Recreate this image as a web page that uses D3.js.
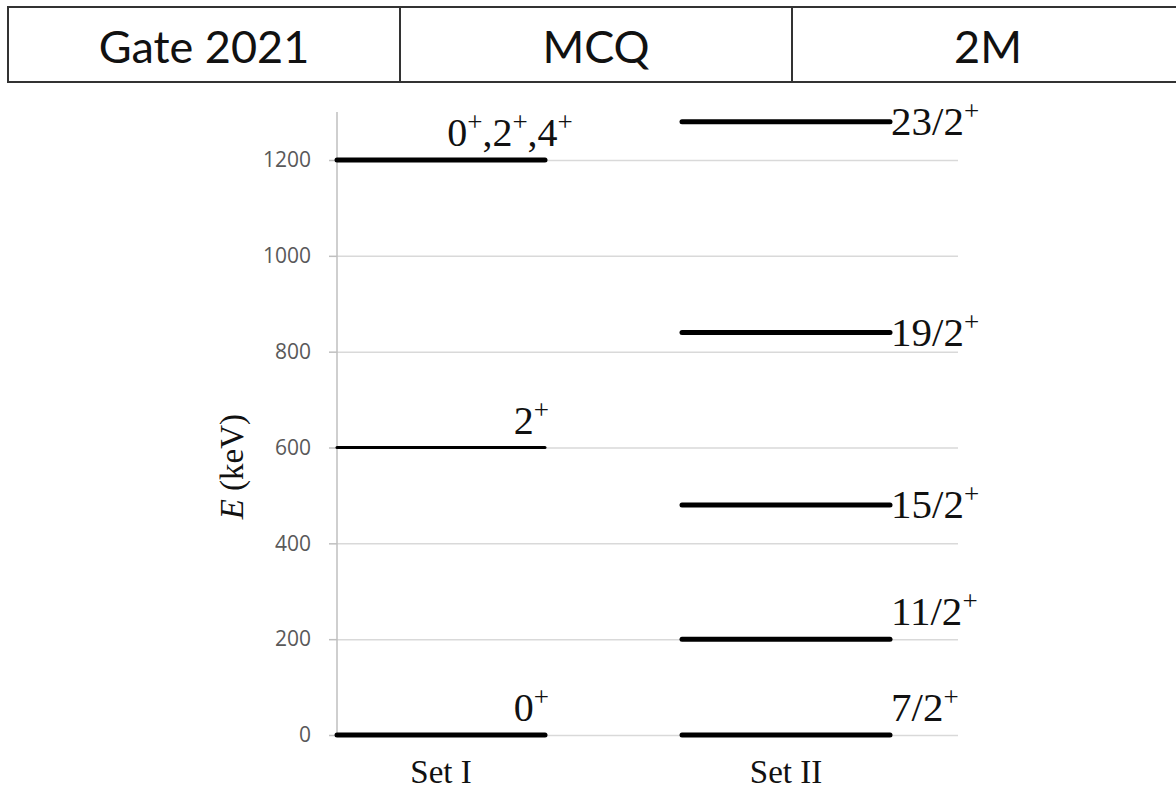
<!DOCTYPE html>
<html>
<head>
<meta charset="utf-8">
<script src="https://cdn.jsdelivr.net/npm/d3@7"></script>
<style>
  body { margin: 0; background: #fff; }
</style>
</head>
<body>
<script>
// header cells
var headerCells = ["Gate 2021", "MCQ", "2M"];

// energy levels (keV) per set, with spin-parity labels
var sets = ["Set I", "Set II"];
var setOneEnergy = [0, 600, 1200];
var setOneLabel = [["0"], ["2"], ["0", ",2", ",4"]];
var setTwoEnergy = [0, 200, 480, 840, 1280];
var setTwoLabel = ["7/2", "11/2", "15/2", "19/2", "23/2"];
var yTicks = [0, 200, 400, 600, 800, 1000, 1200];

var W = 1176, H = 790;
var svg = d3.select("body").append("svg")
    .attr("width", W)
    .attr("height", H);

// ---- header table ----
var cellX = d3.scaleBand().domain(headerCells).range([8, 1184]);
var head = svg.append("g");
head.selectAll("rect")
    .data(headerCells)
    .enter().append("rect")
    .attr("x", function(d) { return cellX(d); })
    .attr("y", 7)
    .attr("width", cellX.bandwidth())
    .attr("height", 75)
    .attr("fill", "none")
    .attr("stroke", "#333")
    .attr("stroke-width", 2);
head.selectAll("text")
    .data(headerCells)
    .enter().append("text")
    .attr("x", function(d) { return cellX(d) + cellX.bandwidth() / 2; })
    .attr("y", 63)
    .attr("text-anchor", "middle")
    .attr("font-family", "Lato, 'Open Sans', sans-serif")
    .attr("font-size", 45)
    .attr("fill", "#111")
    .text(function(d) { return d; });

// ---- level chart ----
var y = d3.scaleLinear().domain([0, 1200]).range([735, 160]);
var x = d3.scalePoint().domain(sets).range([441, 786]);
var halfLen = 104;
var axisX = 337, gridRight = 958;
var serif = "'Liberation Serif', 'DejaVu Serif', serif";

// gridlines
svg.append("g")
    .attr("transform", "translate(" + axisX + ",0)")
    .call(d3.axisLeft(y).tickValues(yTicks).tickSize(-(gridRight - axisX)).tickFormat(""))
    .call(function(g) { g.select(".domain").remove(); })
    .selectAll("line").attr("stroke", "#d9d9d9").attr("stroke-width", 1.5);

// y axis with ticks
var yAxis = svg.append("g")
    .attr("transform", "translate(" + axisX + ",0)")
    .call(d3.axisLeft(y).tickValues(yTicks).tickSize(8).tickPadding(18).tickFormat(d3.format("d")));
yAxis.attr("font-size", 21)
    .attr("font-family", "'Open Sans', Lato, sans-serif");
yAxis.select(".domain").remove();
yAxis.selectAll("line").attr("stroke", "#bfbfbf").attr("stroke-width", 1.5);
yAxis.selectAll("text").attr("fill", "#595959");
svg.append("line")
    .attr("x1", axisX).attr("x2", axisX)
    .attr("y1", y(1300)).attr("y2", y(0))
    .attr("stroke", "#bfbfbf").attr("stroke-width", 1.5);

// axis title
var title = svg.append("text")
    .attr("transform", "translate(243," + y(560) + ") rotate(-90)")
    .attr("text-anchor", "middle")
    .attr("font-family", serif)
    .attr("font-size", 33)
    .attr("fill", "#111");
title.append("tspan").attr("font-style", "italic").text("E");
title.append("tspan").text(" (keV)");

// category labels
svg.selectAll(".cat")
    .data(sets)
    .enter().append("text")
    .attr("class", "cat")
    .attr("x", function(d) { return x(d); })
    .attr("y", 783)
    .attr("text-anchor", "middle")
    .attr("font-family", serif)
    .attr("font-size", 33)
    .attr("fill", "#111")
    .text(function(d) { return d; });

// Set I levels
svg.selectAll(".lvl1")
    .data(setOneEnergy)
    .enter().append("line")
    .attr("x1", axisX)
    .attr("x2", x("Set I") + halfLen)
    .attr("y1", function(d) { return y(d); })
    .attr("y2", function(d) { return y(d); })
    .attr("stroke", "#000")
    .attr("stroke-width", function(d) { return d == 600 ? 3 : 5; })
    .attr("stroke-linecap", "round");

var lab1 = svg.selectAll(".lab1")
    .data(setOneEnergy)
    .enter().append("text")
    .attr("x", function(d, i) {
        return setOneLabel[i].length > 1 ? x("Set I") + halfLen - 35 : x("Set I") + halfLen + 4;
    })
    .attr("y", function(d) { return y(d) - 14; })
    .attr("text-anchor", function(d, i) { return setOneLabel[i].length > 1 ? "middle" : "end"; })
    .attr("font-family", serif)
    .attr("font-size", 40)
    .attr("fill", "#111");
lab1.each(function(d, i) {
    var t = d3.select(this);
    var parts = setOneLabel[i];
    for (var k = 0; k < parts.length; k++) {
        t.append("tspan").attr("dy", k == 0 ? 0 : 15).text(parts[k]);
        t.append("tspan").attr("font-size", 27).attr("dy", -15).text("+");
    }
});

// Set II levels
svg.selectAll(".lvl2")
    .data(setTwoEnergy)
    .enter().append("line")
    .attr("x1", x("Set II") - halfLen)
    .attr("x2", x("Set II") + halfLen)
    .attr("y1", function(d) { return y(d); })
    .attr("y2", function(d) { return y(d); })
    .attr("stroke", "#000")
    .attr("stroke-width", 5)
    .attr("stroke-linecap", "round");

var lab2 = svg.selectAll(".lab2")
    .data(setTwoEnergy)
    .enter().append("text")
    .attr("x", x("Set II") + halfLen + 1)
    .attr("y", function(d) { return d < 300 ? y(d) - 14 : y(d) + 13; })
    .attr("font-family", serif)
    .attr("font-size", 41)
    .attr("fill", "#111");
lab2.each(function(d, i) {
    var t = d3.select(this);
    t.append("tspan").text(setTwoLabel[i]);
    t.append("tspan").attr("font-size", 27).attr("dy", -15).text("+");
});
</script>
</body>
</html>
